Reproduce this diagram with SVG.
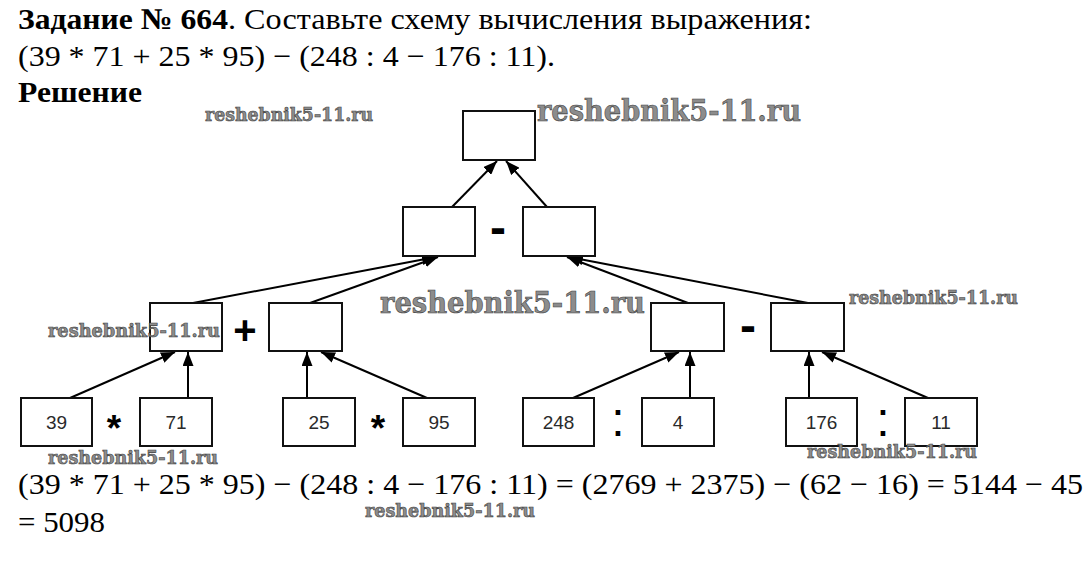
<svg xmlns="http://www.w3.org/2000/svg" width="1090" height="581" viewBox="0 0 1090 581">
<defs>
<style>
.t{font-family:"Liberation Serif","Times New Roman",serif;font-size:30px;fill:#000}
.b{font-weight:bold}
.box{fill:#fff;stroke:#111;stroke-width:2}
.num{font-family:"Liberation Sans",Arial,sans-serif;font-size:19px;fill:#2a2a2a;text-anchor:middle}
.op{font-family:"Liberation Sans",Arial,sans-serif;fill:#000;text-anchor:middle}
.con{stroke:#000;stroke-width:2;fill:none;marker-end:url(#ah)}
.wm{font-family:"DejaVu Serif","Liberation Serif",serif;font-weight:bold;fill:#8c8c8c;stroke:#3c3c3c;stroke-width:0.6}
.ws{font-size:19px}
.wl{font-size:30px}
</style>
<marker id="ah" markerUnits="userSpaceOnUse" markerWidth="15" markerHeight="11" refX="14" refY="5.5" orient="auto">
<path d="M0,0 L14,5.5 L0,11 z" fill="#000"/>
</marker>
</defs>
<rect width="1090" height="581" fill="#fff"/>

<g id="header">
<text class="t b" x="18" y="29" textLength="210" lengthAdjust="spacingAndGlyphs">Задание № 664</text>
<text class="t" x="228" y="29" textLength="584" lengthAdjust="spacingAndGlyphs">. Составьте схему вычисления выражения:</text>
<text class="t" x="18" y="66" textLength="537" lengthAdjust="spacingAndGlyphs">(39 * 71 + 25 * 95) − (248 : 4 − 176 : 11).</text>
<text class="t b" x="18" y="102" textLength="124" lengthAdjust="spacingAndGlyphs">Решение</text>
</g>

<g id="connectors">
<line class="con" x1="452" y1="207" x2="497" y2="161"/>
<line class="con" x1="547" y1="207" x2="506" y2="161"/>
<line class="con" x1="193" y1="303" x2="436" y2="257"/>
<line class="con" x1="310" y1="303" x2="438" y2="257"/>
<line class="con" x1="688" y1="303" x2="567" y2="257"/>
<line class="con" x1="808" y1="303" x2="569" y2="257"/>
<line class="con" x1="70" y1="398" x2="175" y2="352"/>
<line class="con" x1="188" y1="398" x2="188" y2="352"/>
<line class="con" x1="307" y1="398" x2="307" y2="352"/>
<line class="con" x1="427" y1="398" x2="321" y2="352"/>
<line class="con" x1="573" y1="398" x2="679" y2="352"/>
<line class="con" x1="690" y1="398" x2="690" y2="352"/>
<line class="con" x1="809" y1="398" x2="809" y2="352"/>
<line class="con" x1="928" y1="398" x2="822" y2="352"/>
</g>

<g id="n-top"><rect class="box" x="463" y="111" width="72" height="49"/></g>
<g id="n-diff-left"><rect class="box" x="403" y="207" width="72" height="49"/></g>
<g id="n-diff-right"><rect class="box" x="523" y="207" width="72" height="49"/></g>
<g id="n-prod1"><rect class="box" x="150" y="303" width="72" height="48"/></g>
<g id="n-prod2"><rect class="box" x="269" y="303" width="73" height="48"/></g>
<g id="n-quot1"><rect class="box" x="651" y="303" width="73" height="48"/></g>
<g id="n-quot2"><rect class="box" x="771" y="303" width="73" height="48"/></g>

<g id="n-39"><rect class="box" x="21" y="398" width="71" height="48"/><text class="num" x="56.5" y="429">39</text></g>
<g id="n-71"><rect class="box" x="140" y="398" width="72" height="48"/><text class="num" x="176" y="429">71</text></g>
<g id="n-25"><rect class="box" x="283" y="398" width="72" height="48"/><text class="num" x="319" y="429">25</text></g>
<g id="n-95"><rect class="box" x="403" y="398" width="72" height="48"/><text class="num" x="439" y="429">95</text></g>
<g id="n-248"><rect class="box" x="523" y="398" width="71" height="48"/><text class="num" x="558.5" y="429">248</text></g>
<g id="n-4"><rect class="box" x="642" y="398" width="72" height="48"/><text class="num" x="678" y="429">4</text></g>
<g id="n-176"><rect class="box" x="786" y="398" width="71" height="48"/><text class="num" x="821.5" y="429">176</text></g>
<g id="n-11"><rect class="box" x="905" y="398" width="72" height="48"/><text class="num" x="941" y="429">11</text></g>

<g id="operators">
<text class="op" x="498" y="244" font-size="48" font-weight="bold">-</text>
<text class="op" x="245" y="344" font-size="40" font-weight="bold">+</text>
<text class="op" x="748" y="342" font-size="48" font-weight="bold">-</text>
<text class="op" x="114" y="441" font-size="37" font-weight="bold">*</text>
<text class="op" x="378" y="441" font-size="37" font-weight="bold">*</text>
<text class="op" x="618" y="436" font-size="48">:</text>
<text class="op" x="883" y="436" font-size="48">:</text>
</g>

<g id="result">
<text class="t" x="18" y="494" textLength="1065" lengthAdjust="spacingAndGlyphs">(39 * 71 + 25 * 95) − (248 : 4 − 176 : 11) = (2769 + 2375) − (62 − 16) = 5144 − 45</text>
<text class="t" x="18" y="532" textLength="87" lengthAdjust="spacingAndGlyphs">= 5098</text>
</g>

<g id="watermarks">
<text class="wm ws" x="205" y="121" textLength="168" lengthAdjust="spacingAndGlyphs">reshebnik5-11.ru</text>
<text class="wm wl" x="537" y="121" textLength="264" lengthAdjust="spacingAndGlyphs">reshebnik5-11.ru</text>
<text class="wm wl" x="380" y="313" textLength="265" lengthAdjust="spacingAndGlyphs">reshebnik5-11.ru</text>
<text class="wm ws" x="849" y="304" textLength="169" lengthAdjust="spacingAndGlyphs">reshebnik5-11.ru</text>
<text class="wm ws" x="48" y="337" textLength="172" lengthAdjust="spacingAndGlyphs">reshebnik5-11.ru</text>
<text class="wm ws" x="48" y="464" textLength="170" lengthAdjust="spacingAndGlyphs">reshebnik5-11.ru</text>
<text class="wm ws" x="807" y="458" textLength="170" lengthAdjust="spacingAndGlyphs">reshebnik5-11.ru</text>
<text class="wm ws" x="365" y="517" textLength="170" lengthAdjust="spacingAndGlyphs">reshebnik5-11.ru</text>
</g>
</svg>
